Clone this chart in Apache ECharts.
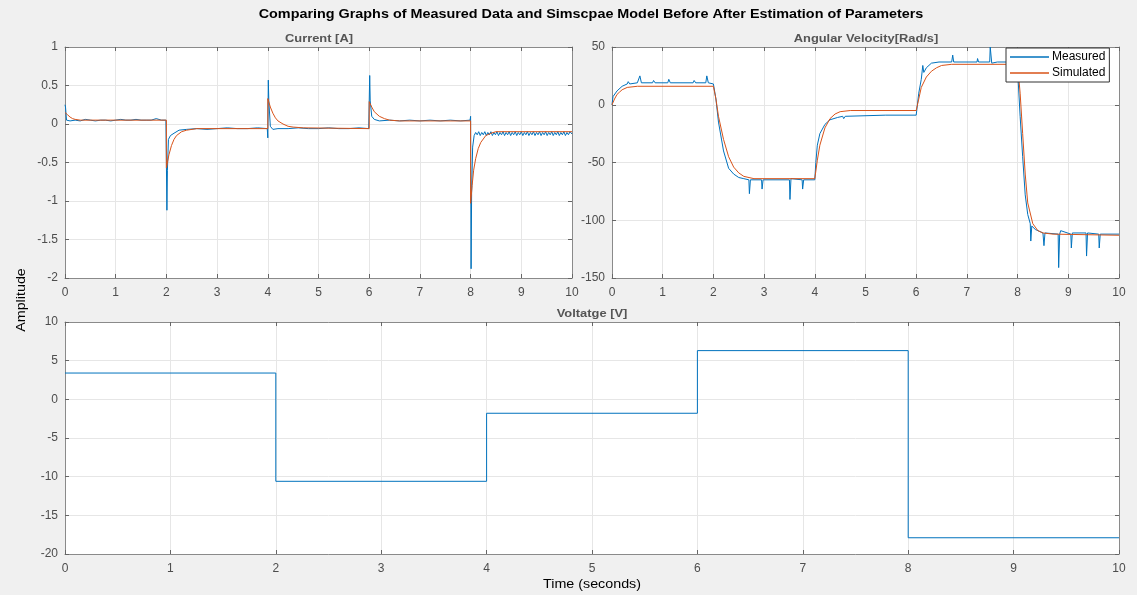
<!DOCTYPE html>
<html><head><meta charset="utf-8">
<script src="https://cdn.jsdelivr.net/npm/echarts@6/dist/echarts.min.js"></script>
<style>html,body{margin:0;padding:0;background:#f0f0f0}#c{width:1137px;height:595px}</style>
</head><body><div id="c"></div>
<script>
// ---------- DATA ----------
const chartTitle = 'Comparing Graphs of Measured Data and Simscpae Model Before After Estimation of Parameters';
const panelTitles = ['Current [A]', 'Angular Velocity[Rad/s]', 'Voltatge [V]'];
const yAxisName = 'Amplitude';
const xAxisName = 'Time (seconds)';
const seriesNames = ['Measured', 'Simulated'];

const currentMeasured = [
  [0,0.25],[0.01,0.22],[0.03,0.05],[0.1,0.04],[0.2,0.05],[0.3,0.04],[0.4,0.06],[0.5,0.05],[0.6,0.04],[0.7,0.05],
  [0.8,0.05],[0.9,0.04],[1.0,0.05],[1.1,0.06],[1.2,0.05],[1.3,0.05],[1.4,0.06],[1.5,0.05],[1.6,0.05],[1.7,0.05],
  [1.8,0.07],[1.9,0.05],[1.99,0.05],[2.0,0.04],[2.01,-1.12],[2.02,-0.6],[2.04,-0.2],[2.08,-0.15],[2.15,-0.12],
  [2.25,-0.08],[2.4,-0.07],[2.6,-0.06],[2.8,-0.07],[3.0,-0.06],[3.2,-0.05],[3.4,-0.06],[3.6,-0.06],[3.8,-0.05],
  [3.99,-0.06],[4.0,-0.18],[4.01,0.57],[4.02,0.3],[4.05,-0.03],[4.1,-0.07],[4.2,-0.06],[4.4,-0.06],[4.6,-0.05],
  [4.8,-0.06],[5.0,-0.06],[5.2,-0.05],[5.4,-0.06],[5.6,-0.06],[5.8,-0.05],[5.99,-0.06],[6.0,-0.07],[6.01,0.63],
  [6.02,0.3],[6.05,0.1],[6.1,0.06],[6.2,0.04],[6.4,0.05],[6.6,0.04],[6.8,0.05],[7.0,0.04],[7.2,0.05],[7.4,0.04],
  [7.6,0.05],[7.8,0.04],[7.99,0.05],[8.0,0.1],[8.01,-1.88],[8.02,-0.9],[8.04,-0.3],[8.07,-0.15],[8.1,-0.11],
  [8.13,-0.14],[8.16,-0.1],[8.19,-0.15],[8.22,-0.11],[8.25,-0.14],[8.28,-0.1],[8.31,-0.15],[8.34,-0.11],[8.37,-0.14],
  [8.4,-0.1],[8.43,-0.15],[8.46,-0.11],[8.49,-0.14],[8.52,-0.1],[8.55,-0.15],[8.58,-0.11],[8.61,-0.14],[8.64,-0.1],
  [8.67,-0.15],[8.7,-0.11],[8.73,-0.14],[8.76,-0.1],[8.79,-0.15],[8.82,-0.11],[8.85,-0.14],[8.88,-0.1],[8.91,-0.15],
  [8.94,-0.11],[8.97,-0.14],[9.0,-0.1],[9.03,-0.15],[9.06,-0.11],[9.09,-0.14],[9.12,-0.1],[9.15,-0.15],[9.18,-0.11],
  [9.21,-0.14],[9.24,-0.1],[9.27,-0.15],[9.3,-0.11],[9.33,-0.14],[9.36,-0.1],[9.39,-0.15],[9.42,-0.11],[9.45,-0.14],
  [9.48,-0.1],[9.51,-0.15],[9.54,-0.11],[9.57,-0.14],[9.6,-0.1],[9.63,-0.15],[9.66,-0.11],[9.69,-0.14],[9.72,-0.1],
  [9.75,-0.15],[9.78,-0.11],[9.81,-0.14],[9.84,-0.1],[9.87,-0.15],[9.9,-0.11],[9.93,-0.14],[9.96,-0.1],[10,-0.13]
];
const currentSimulated = [
  [0,0.15],[0.05,0.12],[0.1,0.09],[0.15,0.07],[0.2,0.06],[0.3,0.05],[2.0,0.05],[2.0,-0.57],[2.05,-0.4],[2.1,-0.28],
  [2.15,-0.2],[2.2,-0.15],[2.3,-0.1],[2.4,-0.08],[2.6,-0.06],[4.0,-0.06],[4.0,0.33],[4.05,0.22],[4.1,0.14],[4.15,0.08],
  [4.2,0.04],[4.3,0.0],[4.4,-0.03],[4.5,-0.04],[4.7,-0.05],[6.0,-0.06],[6.0,0.29],[6.05,0.22],[6.1,0.16],[6.2,0.1],
  [6.3,0.07],[6.4,0.05],[6.6,0.04],[8.0,0.04],[8.0,-1.03],[8.03,-0.8],[8.06,-0.6],[8.1,-0.45],[8.15,-0.32],[8.2,-0.24],
  [8.3,-0.15],[8.4,-0.12],[8.5,-0.1],[10,-0.1]
];
const velocityMeasured = [
  [0,0],[0.02,7],[0.05,8],[0.1,12],[0.2,16],[0.3,18],[0.32,20],[0.35,18],[0.5,19],[0.55,25],[0.58,19],[0.8,19],
  [0.82,21],[0.85,19],[1.1,19],[1.12,22],[1.15,19],[1.6,19],[1.62,21],[1.65,19],[1.85,19],[1.87,25],[1.9,19],
  [2.0,18],[2.05,5],[2.1,-15],[2.2,-40],[2.3,-55],[2.4,-60],[2.5,-63],[2.6,-64],[2.7,-65],[2.71,-77],[2.73,-65],
  [2.95,-65],[2.96,-73],[2.98,-65],[3.5,-65],[3.51,-82],[3.53,-64],[3.75,-65],[3.76,-73],[3.78,-65],[4.0,-65],
  [4.02,-50],[4.05,-35],[4.1,-25],[4.2,-17],[4.3,-13],[4.45,-11],[4.55,-10],[4.57,-12],[4.6,-10],[5.4,-9],[6.0,-9],
  [6.05,10],[6.1,22],[6.13,34],[6.15,28],[6.2,32],[6.3,36],[6.45,37],[6.7,37],[6.72,43],[6.74,37],[7.2,37],[7.21,40],
  [7.23,37],[7.45,37],[7.46,50],[7.49,36],[7.6,37],[7.9,37],[8.0,30],[8.05,-10],[8.1,-45],[8.15,-78],[8.2,-95],
  [8.25,-103],[8.26,-118],[8.28,-105],[8.35,-108],[8.5,-111],[8.52,-122],[8.54,-111],[8.8,-112],[8.81,-141],
  [8.83,-112],[8.85,-109],[9.05,-112],[9.06,-124],[9.08,-111],[9.35,-111],[9.36,-131],[9.38,-111],[9.6,-112],
  [9.61,-124],[9.63,-112],[10,-112]
];
const velocitySimulated = [
  [0,0],[0.05,5],[0.1,9],[0.15,11],[0.2,13],[0.3,15],[0.5,16],[2.0,16],[2.05,5],[2.1,-10],[2.2,-30],[2.3,-45],
  [2.4,-54],[2.5,-59],[2.6,-62],[2.8,-64],[4.0,-64],[4.05,-48],[4.1,-35],[4.2,-20],[4.3,-12],[4.4,-8],[4.5,-6],
  [4.7,-5],[6.0,-5],[6.05,5],[6.1,15],[6.2,24],[6.3,29],[6.4,32],[6.5,34],[6.7,35],[8.0,35],[8.05,10],[8.1,-25],
  [8.15,-60],[8.2,-85],[8.3,-103],[8.4,-109],[8.5,-111],[8.7,-112],[10,-113]
];
const voltageSteps = [[0,3.4],[2,-10.6],[4,-1.8],[6,6.3],[8,-17.9],[10,-17.9]];

const xRange = [0, 10, 1];
const currentRange = [-2, 1, 0.5];
const velocityRange = [-150, 50, 50];
const voltageRange = [-20, 10, 5];

// ---------- STYLE ----------
const BLUE = '#0072BD', ORANGE = '#D95319';
const FONT = '"Liberation Sans", Arial, sans-serif';
const LINE = '#8a8a8a', GRID = '#e6e6e6', LBL = '#4d4d4d', TICK = '#666';

const grids = [
  {left: 65, top: 47, width: 507, height: 231},
  {left: 612, top: 47, width: 507, height: 231},
  {left: 65, top: 322, width: 1054, height: 232}
].map(g => Object.assign(g, {show: true, backgroundColor: '#fff', borderWidth: 0}));
const yRanges = [currentRange, velocityRange, voltageRange];

const xAxes = [], yAxes = [];
grids.forEach((g, i) => {
  const base = {type: 'value', gridIndex: i, min: xRange[0], max: xRange[1], interval: xRange[2]};
  const al = {show: true, onZero: false, lineStyle: {color: LINE, width: 1}};
  const at = {show: true, inside: true, length: 4, lineStyle: {color: TICK}};
  xAxes.push(Object.assign({}, base, {
    position: 'bottom', axisLine: al, axisTick: at,
    axisLabel: {color: LBL, fontFamily: FONT, fontSize: 12, margin: 9},
    splitLine: {show: true, lineStyle: {color: GRID, width: 1}}
  }));
  xAxes.push(Object.assign({}, base, {
    position: 'top', axisLine: al, axisTick: at,
    axisLabel: {show: false}, splitLine: {show: false}
  }));
  const r = yRanges[i];
  const yb = {type: 'value', gridIndex: i, min: r[0], max: r[1], interval: r[2]};
  yAxes.push(Object.assign({}, yb, {
    position: 'left', axisLine: al, axisTick: at,
    axisLabel: {color: LBL, fontFamily: FONT, fontSize: 12, margin: 7},
    splitLine: {show: true, lineStyle: {color: GRID, width: 1}}
  }));
  yAxes.push(Object.assign({}, yb, {
    position: 'right', axisLine: al, axisTick: at,
    axisLabel: {show: false}, splitLine: {show: false}
  }));
});

function line(name, data, color, gi, extra) {
  return Object.assign({
    name, type: 'line', data, xAxisIndex: gi * 2, yAxisIndex: gi * 2,
    showSymbol: false, symbol: 'none', animation: false,
    lineStyle: {color, width: 1}, itemStyle: {color}
  }, extra || {});
}

function label(text, x, y, size, weight, color, sx, rot) {
  return {type: 'text', x, y, scaleX: sx, rotation: rot || 0, z: 100,
    style: {text, font: weight + ' ' + size + 'px ' + FONT, fill: color,
            textAlign: 'center', textVerticalAlign: 'middle'}};
}

const chart = echarts.init(document.getElementById('c'), null, {renderer: 'canvas'});
chart.setOption({
  backgroundColor: '#f0f0f0',
  animation: false,
  graphic: [
    label(chartTitle, 591, 15, 12.5, 'bold', '#000', 1.15),
    label(panelTitles[0], 319, 39, 11.5, 'bold', '#555', 1.12),
    label(panelTitles[1], 866, 39, 11.5, 'bold', '#555', 1.12),
    label(panelTitles[2], 592, 314, 11.5, 'bold', '#555', 1.12),
    {type: 'text', x: 21, y: 300, rotation: Math.PI / 2, scaleX: 1.1, z: 100,
     style: {text: yAxisName, font: '13px ' + FONT, fill: '#000', textAlign: 'center', textVerticalAlign: 'middle'}},
    label(xAxisName, 592, 584, 13, 'normal', '#000', 1.1)
  ],
  legend: {
    data: [{name: seriesNames[0], icon: 'rect'}, {name: seriesNames[1], icon: 'rect'}],
    orient: 'vertical', left: 1006, top: 48,
    itemWidth: 39, itemHeight: 1.5, itemGap: 4,
    padding: [3, 4, 3, 4],
    backgroundColor: '#fff', borderColor: '#333', borderWidth: 1,
    textStyle: {fontFamily: FONT, fontSize: 12, color: '#000', padding: [0, 0, 0, -2]},
    selectedMode: false
  },
  grid: grids,
  xAxis: xAxes,
  yAxis: yAxes,
  series: [
    line('Current measured', currentMeasured, BLUE, 0),
    line('Current simulated', currentSimulated, ORANGE, 0),
    line(seriesNames[0], velocityMeasured, BLUE, 1),
    line(seriesNames[1], velocitySimulated, ORANGE, 1),
    line('Voltage', voltageSteps, BLUE, 2, {step: 'end'})
  ]
});
</script></body></html>
